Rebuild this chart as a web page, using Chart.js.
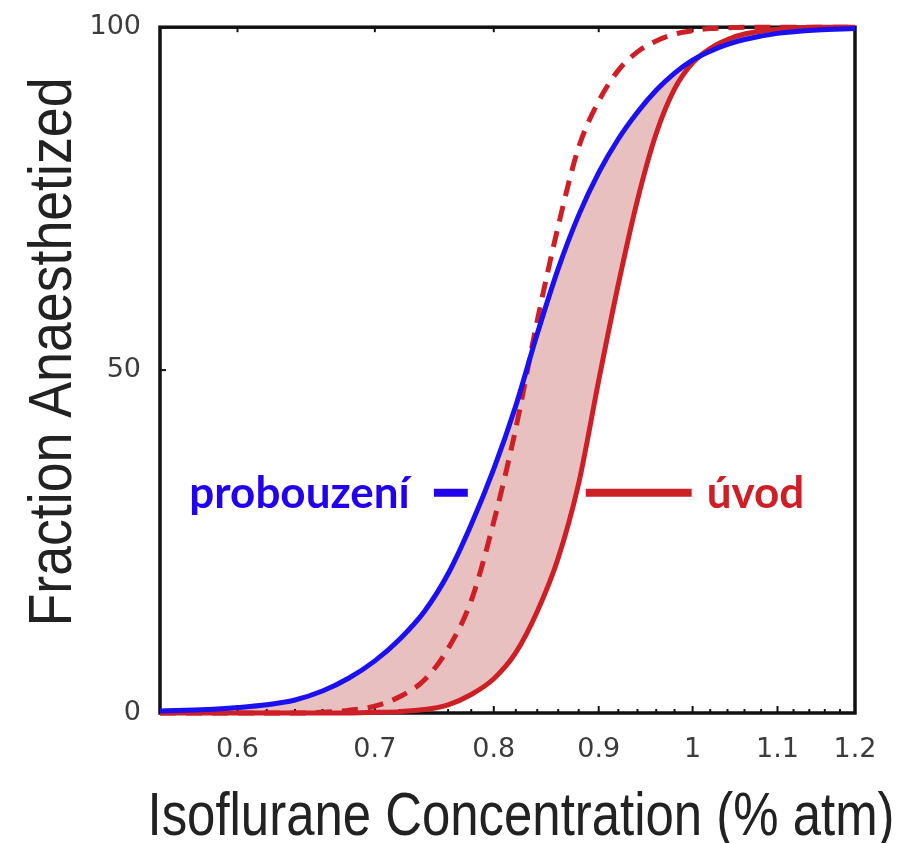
<!DOCTYPE html>
<html>
<head>
<meta charset="utf-8">
<script src="https://cdn.jsdelivr.net/npm/chart.js@4.4.0/dist/chart.umd.min.js"></script>
<style>
  html, body { margin: 0; padding: 0; background: #fff; }
  #wrap { width: 904px; height: 843px; }
</style>
</head>
<body>
<div id="wrap"><canvas id="doseChart" width="904" height="843"></canvas></div>
<script>
// koncentrace isofluranu (% atm) – společná osa pro všechny křivky
const concentrations = [0.55, 0.58, 0.6, 0.62, 0.64, 0.66, 0.68, 0.7, 0.72, 0.74, 0.76, 0.78, 0.8, 0.82, 0.84, 0.86, 0.88, 0.9, 0.92, 0.94, 0.96, 0.98, 1.0, 1.02, 1.04, 1.06, 1.1, 1.15, 1.2];
// probouzení (modrá)
const emergence = [0.3, 0.5, 0.8, 1.2, 1.9, 3.2, 5.1, 7.6, 10.8, 14.8, 20.3, 27.5, 35.6, 44.8, 55.3, 64.8, 72.6, 78.8, 83.7, 87.6, 90.8, 93.3, 95.2, 96.5, 97.5, 98.2, 99.1, 99.6, 99.8];
// úvod (červená plná)
const induction = [0, 0, 0, 0, 0, 0, 0, 0.1, 0.2, 0.5, 1.2, 2.7, 5.0, 8.8, 14.8, 22.6, 33.5, 48.5, 62.5, 74.8, 84.5, 91.0, 94.8, 96.9, 98.2, 99.0, 99.7, 100, 100];
// úvod (červená čárkovaná)
const inductionDashed = [0, 0, 0, 0, 0, 0.1, 0.4, 1.0, 2.4, 4.8, 9.4, 16.4, 27.9, 41.5, 57.2, 71, 82.5, 89.2, 93.7, 96.4, 98, 99, 99.5, 99.8, 99.9, 100, 100, 100, 100];

const xTicks = [0.6, 0.7, 0.8, 0.9, 1, 1.1, 1.2];
const xTickLabels = ["0.6", "0.7", "0.8", "0.9", "1", "1.1", "1.2"];
const xMinorTicks = [0.56, 0.58, 0.6, 0.62, 0.64, 0.66, 0.68, 0.7, 0.72, 0.74, 0.76, 0.78, 0.8, 0.82, 0.84, 0.86, 0.88, 0.9, 0.92, 0.94, 0.96, 0.98, 1, 1.02, 1.04, 1.06, 1.08, 1.1, 1.12, 1.14, 1.16, 1.18];
const yTicks = [0, 50, 100];

const BLUE = "#1a10f0";
const RED = "#cc1f26";

const toPoints = ys => concentrations.map((c, i) => ({ x: c, y: ys[i] }));

// popisky v grafu
const notes = [
  { text: "probouzení", color: "#2200ee", x: 0.728, y: 32.1, align: "right", lineFrom: 0.748, lineTo: 0.777 },
  { text: "úvod", color: "#cc1f26", x: 1.016, y: 32.1, align: "left", lineFrom: 0.887, lineTo: 0.999 }
];

// rámeček + ticky dovnitř
const framePlugin = {
  id: "frame",
  beforeDatasetsDraw(chart) {
    const { ctx, chartArea: a, scales } = chart;
    ctx.save();
    ctx.strokeStyle = "#111";
    ctx.lineWidth = 3.5;
    ctx.strokeRect(a.left, a.top, a.right - a.left, a.bottom - a.top);
    ctx.lineWidth = 2;
    xMinorTicks.forEach(v => {
      const px = scales.x.getPixelForValue(v);
      const major = xTicks.some(t => Math.abs(t - v) < 1e-6);
      ctx.beginPath();
      ctx.moveTo(px, a.bottom);
      ctx.lineTo(px, a.bottom - (major ? 7 : 4));
      ctx.stroke();
    });
    xTicks.forEach(v => {
      const px = scales.x.getPixelForValue(v);
      ctx.beginPath();
      ctx.moveTo(px, a.top);
      ctx.lineTo(px, a.top + 5);
      ctx.stroke();
    });
    const py = scales.y.getPixelForValue(50);
    ctx.beginPath();
    ctx.moveTo(a.left, py);
    ctx.lineTo(a.left + 6, py);
    ctx.stroke();
    ctx.restore();
  }
};

const notesPlugin = {
  id: "notes",
  afterDatasetsDraw(chart) {
    const { ctx, scales } = chart;
    ctx.save();
    notes.forEach(n => {
      const py = scales.y.getPixelForValue(n.y);
      ctx.strokeStyle = n.color;
      ctx.lineWidth = 8;
      ctx.beginPath();
      ctx.moveTo(scales.x.getPixelForValue(n.lineFrom), py);
      ctx.lineTo(scales.x.getPixelForValue(n.lineTo), py);
      ctx.stroke();
      ctx.fillStyle = n.color;
      ctx.font = "bold 44px Lato";
      ctx.textAlign = n.align;
      ctx.textBaseline = "middle";
      ctx.fillText(n.text, scales.x.getPixelForValue(n.x), py + 1);
    });
    ctx.restore();
  }
};

// popisky os – zúžené jako v originále
function stretchedText(ctx, text, cx, baseY, width) {
  ctx.font = "62px 'Liberation Sans'";
  const w = ctx.measureText(text).width;
  ctx.save();
  ctx.translate(cx, baseY);
  ctx.scale(width / w, 1);
  ctx.textAlign = "center";
  ctx.textBaseline = "alphabetic";
  ctx.fillText(text, 0, 0);
  ctx.restore();
}

const titlesPlugin = {
  id: "titles",
  afterDraw(chart) {
    const { ctx } = chart;
    ctx.save();
    ctx.fillStyle = "#222";
    stretchedText(ctx, "Isoflurane Concentration (% atm)", 521, 835, 747);
    ctx.translate(71, 352);
    ctx.rotate(-Math.PI / 2);
    stretchedText(ctx, "Fraction Anaesthetized", 0, 0, 549);
    ctx.restore();
  }
};

new Chart(document.getElementById("doseChart"), {
  type: "line",
  data: {
    datasets: [
      {
        label: "probouzení",
        data: toPoints(emergence),
        borderColor: BLUE,
        borderWidth: 5,
        backgroundColor: "#e8c0c0",
        fill: { target: 1 },
        pointRadius: 0,
        cubicInterpolationMode: "monotone"
      },
      {
        label: "úvod",
        data: toPoints(induction),
        borderColor: RED,
        borderWidth: 5,
        fill: false,
        pointRadius: 0,
        cubicInterpolationMode: "monotone"
      },
      {
        label: "úvod (čárkovaně)",
        data: toPoints(inductionDashed),
        borderColor: RED,
        borderWidth: 5,
        borderDash: [16, 10],
        fill: false,
        pointRadius: 0,
        cubicInterpolationMode: "monotone"
      }
    ]
  },
  options: {
    responsive: false,
    animation: false,
    clip: false,
    layout: { padding: { top: 22, right: 49, left: 0, bottom: 0 } },
    plugins: {
      legend: { display: false },
      tooltip: { enabled: false },
      filler: { drawTime: "beforeDatasetsDraw" }
    },
    scales: {
      x: {
        type: "logarithmic",
        min: 0.55,
        max: 1.2,
        afterBuildTicks: s => { s.ticks = xTicks.map(v => ({ value: v })); },
        afterFit: s => { s.height = 130; },
        grid: { display: false },
        border: { display: false },
        ticks: {
          autoSkip: false,
          maxRotation: 0,
          padding: 13,
          color: "#3c3c3c",
          font: { family: "DejaVu Sans", size: 27 },
          callback: v => xTickLabels[xTicks.findIndex(t => Math.abs(t - v) < 1e-6)] ?? ""
        }
      },
      y: {
        min: 0,
        max: 100,
        afterBuildTicks: s => { s.ticks = yTicks.map(v => ({ value: v })); },
        afterFit: s => { s.width = 160; },
        grid: { display: false },
        border: { display: false },
        ticks: {
          padding: 11,
          color: "#3c3c3c",
          font: { family: "DejaVu Sans", size: 27 }
        }
      }
    }
  },
  plugins: [framePlugin, notesPlugin, titlesPlugin]
});
</script>
</body>
</html>
